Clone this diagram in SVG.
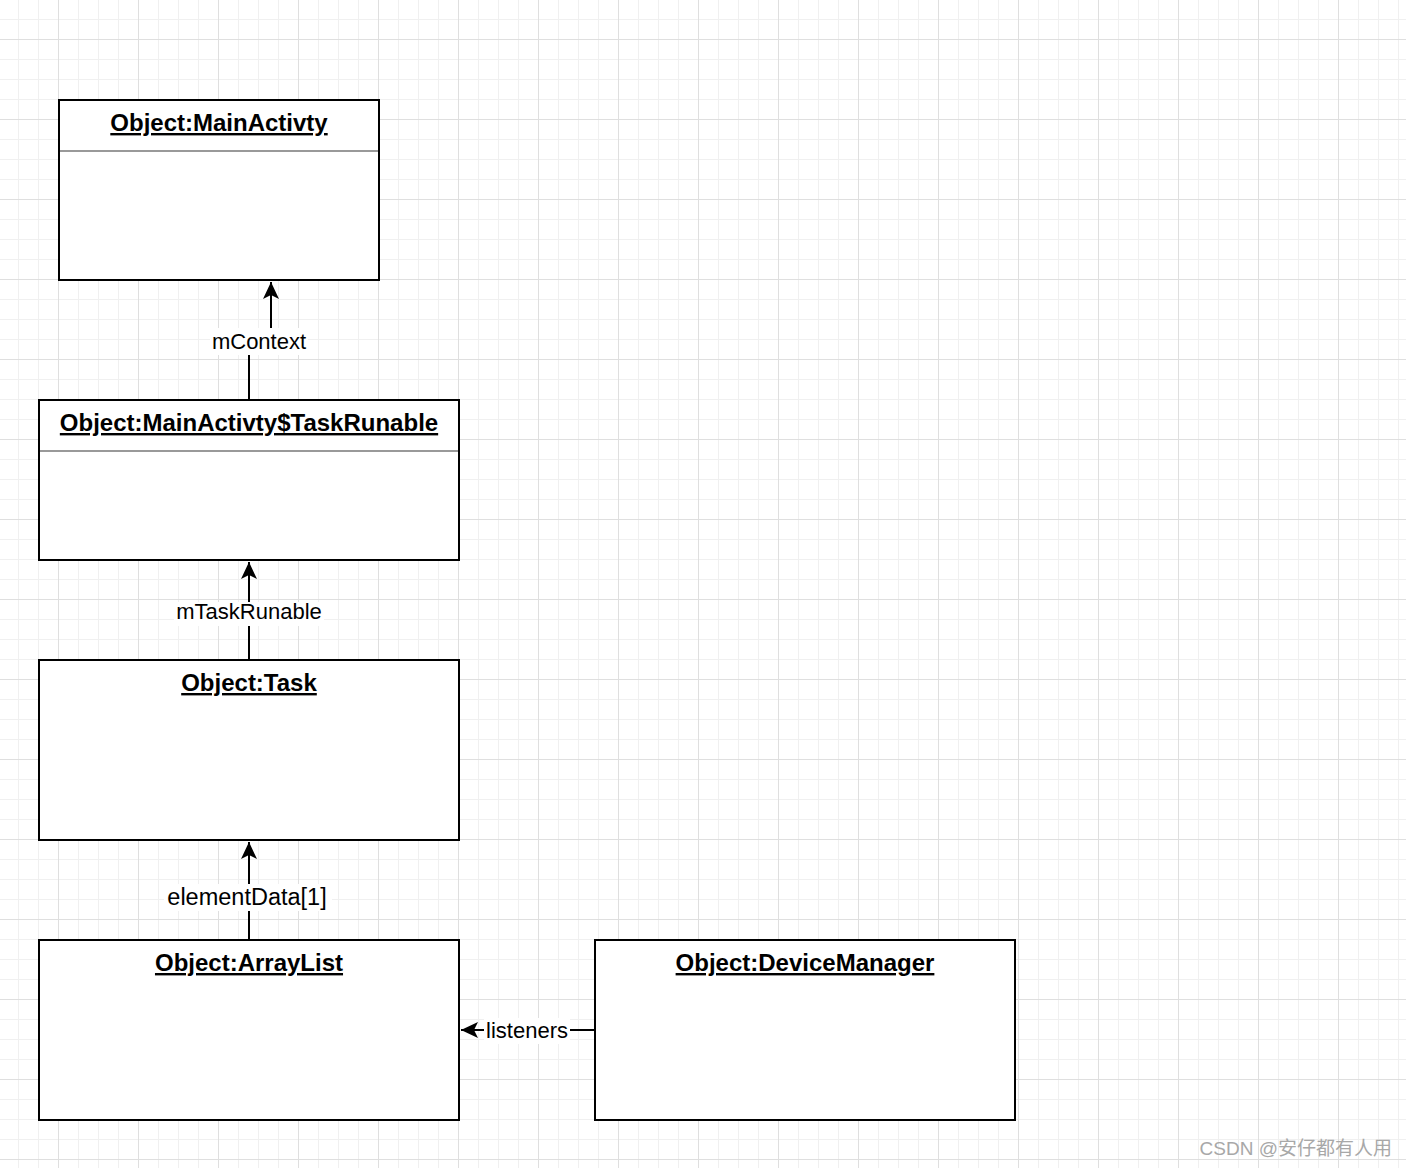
<svg xmlns="http://www.w3.org/2000/svg" width="1406" height="1168" viewBox="0 0 1406 1168">
  <style>
    .box { fill: #ffffff; stroke: #000000; stroke-width: 2; }
    .sep { stroke: #999999; stroke-width: 2; }
    .title { font-family: "Liberation Sans", Arial, sans-serif; font-weight: bold; font-size: 24px; text-anchor: middle; text-decoration: underline; fill: #000; }
    .edge { fill: none; stroke: #000000; stroke-width: 2; }
    .lbl { font-family: "Liberation Sans", Arial, sans-serif; font-size: 22px; text-anchor: middle; fill: #000; }
    .lblbg { fill: #ffffff; }
    .wm { font-family: "Liberation Sans", "Noto Sans CJK SC", sans-serif; font-size: 19px; fill: #a8a8a8; text-anchor: end; }
  </style>
  <defs>
    <pattern id="grid" patternUnits="userSpaceOnUse" x="58" y="39" width="80" height="80">
      <rect x="0" y="0" width="80" height="80" fill="#ffffff"/>
      <rect x="20" y="0" width="1" height="80" fill="#f0f0f0"/>
      <rect x="40" y="0" width="1" height="80" fill="#f0f0f0"/>
      <rect x="60" y="0" width="1" height="80" fill="#f0f0f0"/>
      <rect x="0" y="20" width="80" height="1" fill="#f0f0f0"/>
      <rect x="0" y="40" width="80" height="1" fill="#f0f0f0"/>
      <rect x="0" y="60" width="80" height="1" fill="#f0f0f0"/>
      <rect x="0" y="0" width="1" height="80" fill="#dfdfdf"/>
      <rect x="0" y="0" width="80" height="1" fill="#dfdfdf"/>
    </pattern>
    <marker id="arrow" markerUnits="userSpaceOnUse" viewBox="0 0 18 16" refX="17" refY="8" markerWidth="18" markerHeight="16" orient="auto">
      <path d="M17,8 L0,0 L4,8 L0,16 Z" fill="#000000"/>
    </marker>
  </defs>

  <rect x="0" y="0" width="1406" height="1168" fill="url(#grid)"/>

  <g id="connectors">
    <g id="edge-mContext">
      <path class="edge" d="M249,400 V341 H271 V282" marker-end="url(#arrow)"/>
      <rect class="lblbg" x="210" y="328" width="98" height="27"/>
      <text class="lbl" x="259" y="349">mContext</text>
    </g>
    <g id="edge-mTaskRunable">
      <path class="edge" d="M249,660 V562" marker-end="url(#arrow)"/>
      <rect class="lblbg" x="174" y="602" width="150" height="24"/>
      <text class="lbl" x="249" y="619">mTaskRunable</text>
    </g>
    <g id="edge-elementData">
      <path class="edge" d="M249,940 V842" marker-end="url(#arrow)"/>
      <rect class="lblbg" x="164" y="884" width="168" height="27"/>
      <text class="lbl" x="247" y="905" style="font-size:23.5px">elementData[1]</text>
    </g>
    <g id="edge-listeners">
      <path class="edge" d="M595,1030 H461" marker-end="url(#arrow)"/>
      <rect class="lblbg" x="484" y="1018" width="86" height="26"/>
      <text class="lbl" x="527" y="1038">listeners</text>
    </g>
  </g>

  <g id="node-mainactivty">
    <rect class="box" x="59" y="100" width="320" height="180"/>
    <line class="sep" x1="60" y1="151" x2="378" y2="151"/>
    <text class="title" x="219" y="131">Object:MainActivty</text>
  </g>

  <g id="node-taskrunable">
    <rect class="box" x="39" y="400" width="420" height="160"/>
    <line class="sep" x1="40" y1="451" x2="458" y2="451"/>
    <text class="title" x="249" y="431">Object:MainActivty$TaskRunable</text>
  </g>

  <g id="node-task">
    <rect class="box" x="39" y="660" width="420" height="180"/>
    <text class="title" x="249" y="691">Object:Task</text>
  </g>

  <g id="node-arraylist">
    <rect class="box" x="39" y="940" width="420" height="180"/>
    <text class="title" x="249" y="971">Object:ArrayList</text>
  </g>

  <g id="node-devicemanager">
    <rect class="box" x="595" y="940" width="420" height="180"/>
    <text class="title" x="805" y="971">Object:DeviceManager</text>
  </g>

  <text class="wm" x="1392" y="1155">CSDN @安仔都有人用</text>
</svg>
